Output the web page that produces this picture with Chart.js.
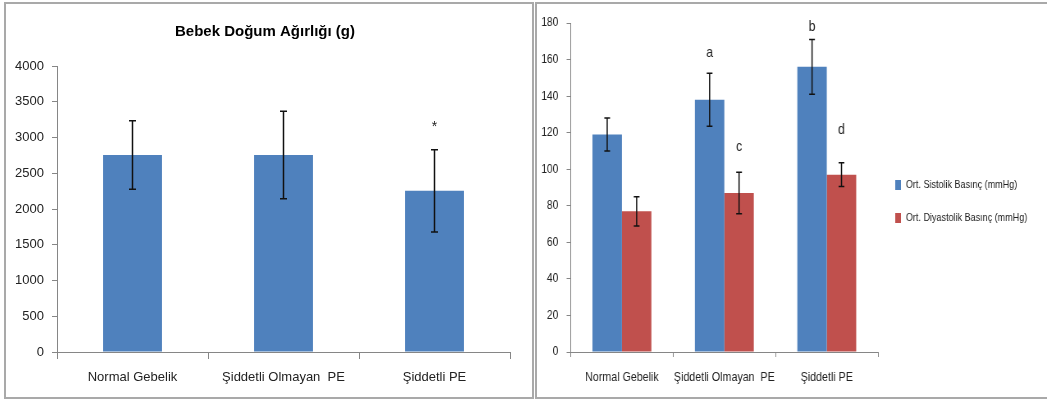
<!DOCTYPE html>
<html>
<head>
<meta charset="utf-8">
<script src="https://cdn.jsdelivr.net/npm/chart.js@4/dist/chart.umd.min.js"></script>
<style>
  body { margin: 0; width: 1047px; height: 400px; background: #fff; overflow: hidden; position: relative; }
  canvas { position: absolute; top: 0; }
  #weightChart { left: 0; }
  /* the right panel of the original figure is squeezed sideways */
  #pressureChart { left: 535px; transform: scaleX(0.8205); transform-origin: 0 0; }
  .frame { position: absolute; border: 2px solid #a9a9a9; box-sizing: border-box; pointer-events: none; }
</style>
</head>
<body>
<canvas id="weightChart" width="534" height="400"></canvas>
<canvas id="pressureChart" width="624" height="400"></canvas>
<div class="frame" style="left:4px; top:2px; width:530px; height:397px;"></div>
<div class="frame" style="left:535px; top:2px; width:520px; height:397px;"></div>
<script>
// Data
const categories = ["Normal Gebelik", "Şiddetli Olmayan  PE", "Şiddetli PE"];

const weightTitle = "Bebek Doğum Ağırlığı (g)";
const weightMeans = [2755, 2755, 2255];
const weightErrors = [480, 612, 575];
const weightMarks = ["", "", "*"];
const weightMarkValues = [null, null, 3150];

const systolicLabel = "Ort. Sistolik Basınç (mmHg)";
const systolicMeans = [119, 138, 156];
const systolicErrors = [9, 14.5, 15];
const systolicMarks = ["", "a", "b"];
const systolicMarkValues = [null, 163.5, 178];

const diastolicLabel = "Ort. Diyastolik Basınç (mmHg)";
const diastolicMeans = [77, 87, 97];
const diastolicErrors = [8, 11.3, 6.5];
const diastolicMarks = ["", "c", "d"];
const diastolicMarkValues = [null, 112.5, 121.5];

const BLUE = "#4F81BD";
const RED = "#C0504D";
const AXIS = "#868686";
const FONT = '"Liberation Sans", Arial, sans-serif';

// Draws error bars and the small letters above them
const errorBarPlugin = {
  id: "errorBars",
  afterDatasetsDraw(chart) {
    const ctx = chart.ctx;
    const y = chart.scales.y;
    chart.data.datasets.forEach((ds, di) => {
      const meta = chart.getDatasetMeta(di);
      meta.data.forEach((bar, i) => {
        const top = y.getPixelForValue(ds.data[i] + ds.errors[i]);
        const bottom = y.getPixelForValue(ds.data[i] - ds.errors[i]);
        const cap = ds.capWidth / 2;
        ctx.save();
        ctx.strokeStyle = "#111";
        ctx.lineWidth = 1.5;
        ctx.beginPath();
        ctx.moveTo(bar.x, top);
        ctx.lineTo(bar.x, bottom);
        ctx.moveTo(bar.x - cap, top);
        ctx.lineTo(bar.x + cap, top);
        ctx.moveTo(bar.x - cap, bottom);
        ctx.lineTo(bar.x + cap, bottom);
        ctx.stroke();
        if (ds.marks[i]) {
          ctx.fillStyle = "#222";
          ctx.font = ds.markFont;
          ctx.textAlign = "center";
          ctx.textBaseline = "middle";
          ctx.fillText(ds.marks[i], bar.x, y.getPixelForValue(ds.markValues[i]));
        }
        ctx.restore();
      });
    });
  },
};

// Title of the left chart, centred like in the original
const headingPlugin = {
  id: "heading",
  afterDraw(chart, args, opts) {
    const ctx = chart.ctx;
    ctx.save();
    ctx.fillStyle = "#000";
    ctx.font = "bold 15px " + FONT;
    ctx.textAlign = "center";
    ctx.textBaseline = "middle";
    ctx.fillText(opts.text, opts.x, opts.y);
    ctx.restore();
  },
};

// Simple legend on the right side of the pressure chart
const sideLegendPlugin = {
  id: "sideLegend",
  afterDraw(chart, args, opts) {
    const ctx = chart.ctx;
    chart.data.datasets.forEach((ds, di) => {
      const cy = opts.y + di * opts.gap;
      ctx.save();
      ctx.fillStyle = ds.backgroundColor;
      ctx.fillRect(opts.x, cy - 5, 7, 10);
      ctx.fillStyle = "#222";
      ctx.font = "11px " + FONT;
      ctx.textAlign = "left";
      ctx.textBaseline = "middle";
      ctx.fillText(ds.label, opts.x + 13, cy);
      ctx.restore();
    });
  },
};

new Chart(document.getElementById("weightChart"), {
  type: "bar",
  data: {
    labels: categories,
    datasets: [
      {
        label: weightTitle,
        data: weightMeans,
        errors: weightErrors,
        marks: weightMarks,
        markValues: weightMarkValues,
        markFont: "14px " + FONT,
        capWidth: 7,
        backgroundColor: BLUE,
        categoryPercentage: 1,
        barPercentage: 0.39,
      },
    ],
  },
  options: {
    responsive: false,
    animation: false,
    devicePixelRatio: 1,
    layout: { padding: { left: 0, right: 24, top: 66, bottom: 0 } },
    plugins: {
      legend: { display: false },
      tooltip: { enabled: false },
      heading: { text: weightTitle, x: 265, y: 32 },
    },
    scales: {
      x: {
        grid: { drawOnChartArea: false, color: AXIS, tickLength: 7, offset: true },
        border: { color: AXIS, width: 1 },
        ticks: { color: "#222", font: { family: FONT, size: 13 }, padding: 11, maxRotation: 0, autoSkip: false },
        afterFit: (scale) => { scale.height = 48; },
      },
      y: {
        min: 0,
        max: 4000,
        ticks: {
          stepSize: 500,
          color: "#222",
          font: { family: FONT, size: 13 },
          padding: 8,
          callback: (value) => String(value),
        },
        grid: { drawOnChartArea: false, color: AXIS, tickLength: 5 },
        border: { color: AXIS, width: 1 },
        afterFit: (scale) => { scale.width = 57; },
      },
    },
  },
  plugins: [errorBarPlugin, headingPlugin],
});

new Chart(document.getElementById("pressureChart"), {
  type: "bar",
  data: {
    labels: categories,
    datasets: [
      {
        label: systolicLabel,
        data: systolicMeans,
        errors: systolicErrors,
        marks: systolicMarks,
        markFont: "15px " + FONT,
        markValues: systolicMarkValues,
        capWidth: 7,
        backgroundColor: BLUE,
        categoryPercentage: 0.575,
        barPercentage: 1,
      },
      {
        label: diastolicLabel,
        data: diastolicMeans,
        errors: diastolicErrors,
        marks: diastolicMarks,
        markValues: diastolicMarkValues,
        markFont: "15px " + FONT,
        capWidth: 7,
        backgroundColor: RED,
        categoryPercentage: 0.575,
        barPercentage: 1,
      },
    ],
  },
  options: {
    responsive: false,
    animation: false,
    devicePixelRatio: 1,
    layout: { padding: { left: 0, right: 206, top: 23, bottom: 0 } },
    plugins: {
      legend: { display: false },
      tooltip: { enabled: false },
      sideLegend: { x: 439, y: 185, gap: 33 },
    },
    scales: {
      x: {
        grid: { drawOnChartArea: false, color: AXIS, tickLength: 5, offset: true },
        border: { color: AXIS, width: 1 },
        ticks: { color: "#222", font: { family: FONT, size: 13 }, padding: 13, maxRotation: 0, autoSkip: false },
        afterFit: (scale) => { scale.height = 48; },
      },
      y: {
        min: 0,
        max: 180,
        ticks: { stepSize: 20, color: "#222", font: { family: FONT, size: 12.5 }, padding: 10 },
        grid: { drawOnChartArea: false, color: AXIS, tickLength: 5 },
        border: { color: AXIS, width: 1 },
        afterFit: (scale) => { scale.width = 43.5; },
      },
    },
  },
  plugins: [errorBarPlugin, sideLegendPlugin],
});
</script>
</body>
</html>
